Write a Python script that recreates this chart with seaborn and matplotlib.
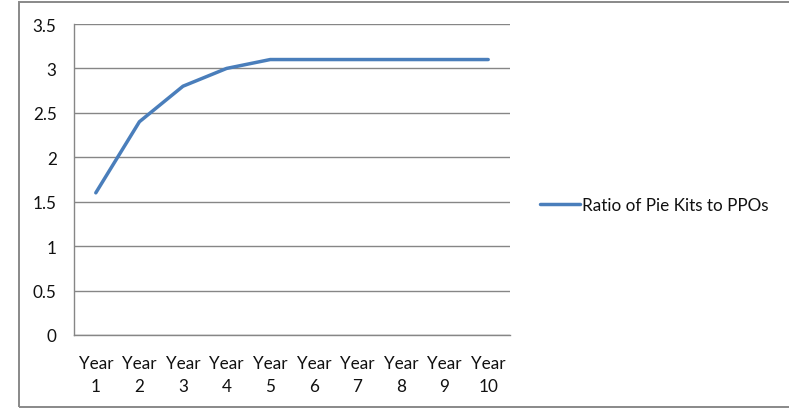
import matplotlib
matplotlib.use("Agg")
import matplotlib.pyplot as plt
from matplotlib.patches import Rectangle
from matplotlib.ticker import FixedLocator, NullFormatter
import seaborn as sns
import pandas as pd

# Data
years = ["Year\n1", "Year\n2", "Year\n3", "Year\n4", "Year\n5",
         "Year\n6", "Year\n7", "Year\n8", "Year\n9", "Year\n10"]
ratio = [1.6, 2.4, 2.8, 3.0, 3.1, 3.1, 3.1, 3.1, 3.1, 3.1]
series_name = "Ratio of Pie Kits to PPOs"
y_ticks = [0, 0.5, 1, 1.5, 2, 2.5, 3, 3.5]

df = pd.DataFrame({"year": years, "ratio": ratio, "series": series_name})

sns.set_theme(style="white")
plt.rcParams["font.family"] = ["Lato", "DejaVu Sans"]

W, H = 789, 410
fig = plt.figure(figsize=(W / 100, H / 100), dpi=100)
fig.patch.set_facecolor("white")

# plot area in pixel terms
left, right, top, bottom = 74, 510, 25, 336
ax = fig.add_axes([left / W, 1 - bottom / H, (right - left) / W, (bottom - top) / H])

grid_c = "#868686"
line_c = "#4A7EBB"
fs = 12.3

x_pos = list(range(len(years)))
sns.lineplot(data=df.assign(x=x_pos), x="x", y="ratio", hue="series",
             palette=[line_c], linewidth=2.5, ax=ax, sort=False)

ax.set_xlim(-0.5, len(years) - 0.5)
ax.set_ylim(0, 3.5)
ax.set_yticks(y_ticks)
ax.set_yticklabels([f"{v:g}" for v in y_ticks])

# tick marks on category boundaries, labels at category centers
ax.xaxis.set_major_locator(FixedLocator([i - 0.5 for i in range(len(years) + 1)]))
ax.xaxis.set_major_formatter(NullFormatter())
ax.xaxis.set_minor_locator(FixedLocator(x_pos))
ax.set_xticklabels(years, minor=True, linespacing=1.5)
ax.tick_params(axis="x", which="major", length=4.5, width=1, color=grid_c, direction="out")
ax.tick_params(axis="x", which="minor", length=0, pad=14.5, labelsize=fs, labelcolor="#111111")
ax.tick_params(axis="y", which="major", length=4.5, width=1, color=grid_c, direction="out",
               pad=8, labelsize=fs, labelcolor="#111111")

ax.grid(axis="y", color=grid_c, linewidth=1.0)
ax.set_axisbelow(True)
for s in ["top", "right"]:
    ax.spines[s].set_visible(False)
for s in ["left", "bottom"]:
    ax.spines[s].set_color(grid_c)
    ax.spines[s].set_linewidth(1.0)
ax.set_xlabel("")
ax.set_ylabel("")

# legend to the right of the plot area
leg = ax.legend(loc="center left", bbox_to_anchor=(540 / W, 1 - 206 / H),
                bbox_transform=fig.transFigure, frameon=False, fontsize=fs,
                handlelength=2.35, handletextpad=0.12, borderpad=0, borderaxespad=0)
for t in leg.get_texts():
    t.set_color("#111111")

# chart border
fig.patches.append(Rectangle((19 / W, 1 - 408 / H), (W + 10 - 19) / W, (408 - 3) / H,
                             transform=fig.transFigure, fill=False,
                             edgecolor="#898989", linewidth=1.4, zorder=0))

fig.savefig("out.png", dpi=100, facecolor="white")
